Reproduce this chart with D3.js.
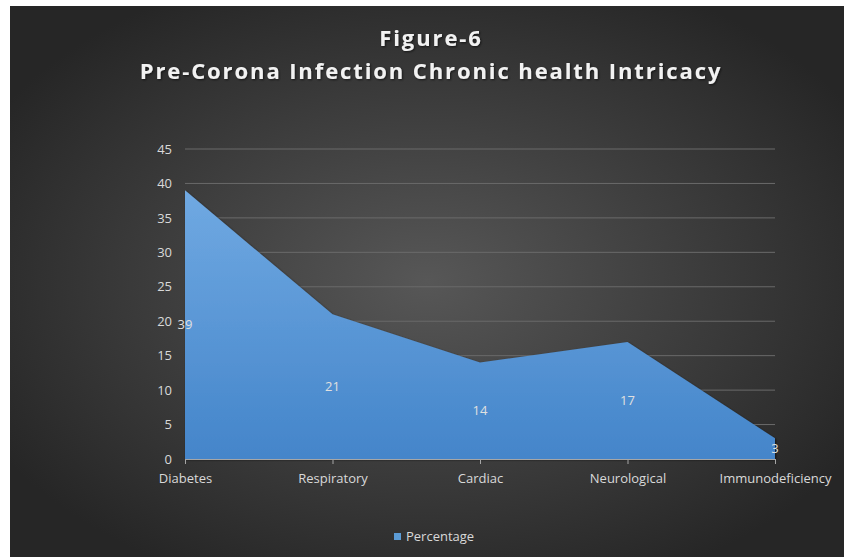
<!DOCTYPE html>
<html>
<head>
<meta charset="utf-8">
<script src="https://cdn.jsdelivr.net/npm/d3@7"></script>
<style>
  body { margin: 0; background: #fff; }
  svg { display: block; }
</style>
</head>
<body>
<svg id="chart"></svg>
<script>
// Data
const categories = ['Diabetes', 'Respiratory', 'Cardiac', 'Neurological', 'Immunodeficiency'];
const percentage = [39, 21, 14, 17, 3];
const yTicks = [0, 5, 10, 15, 20, 25, 30, 35, 40, 45];
const titleLines = ['Figure-6', 'Pre-Corona Infection Chronic health Intricacy'];
const seriesName = 'Percentage';

const width = 844;
const height = 557;

const svg = d3.select('#chart')
    .attr('width', width)
    .attr('height', height);

const defs = svg.append('defs');

// background radial gradient
const bg = defs.append('radialGradient')
    .attr('id', 'bg')
    .attr('cx', '50%').attr('cy', '50%').attr('r', '60%');
bg.append('stop').attr('offset', '0%').attr('stop-color', '#575757');
bg.append('stop').attr('offset', '100%').attr('stop-color', '#262626');

// area fill gradient
const fillGrad = defs.append('linearGradient')
    .attr('id', 'areaFill')
    .attr('x1', 0).attr('y1', 0).attr('x2', 0).attr('y2', 1);
fillGrad.append('stop').attr('offset', '0%').attr('stop-color', '#70a9e2');
fillGrad.append('stop').attr('offset', '100%').attr('stop-color', '#4485ca');

const shadow = defs.append('filter').attr('id', 'shadow')
    .attr('x', '-10%').attr('y', '-10%').attr('width', '120%').attr('height', '120%');
shadow.append('feDropShadow')
    .attr('dx', 1).attr('dy', 1).attr('stdDeviation', 1.2)
    .attr('flood-color', '#000').attr('flood-opacity', 0.6);

svg.append('rect')
    .attr('x', 10).attr('y', 6)
    .attr('width', width - 10).attr('height', height - 6)
    .attr('fill', 'url(#bg)');

// title
svg.selectAll('.title')
    .data(titleLines)
    .enter()
    .append('text')
    .attr('class', 'title')
    .attr('x', 431)
    .attr('y', (d, i) => 46 + i * 33)
    .attr('text-anchor', 'middle')
    .style('font-family', 'Open Sans, sans-serif')
    .style('font-weight', 'bold')
    .style('font-size', '22px')
    .style('letter-spacing', '1.9px')
    .style('fill', '#f2f2f2')
    .attr('filter', 'url(#shadow)')
    .text(d => d);

// scales
const x = d3.scalePoint()
    .domain(categories)
    .range([185, 775]);

const y = d3.scaleLinear()
    .domain([0, 45])
    .range([459, 149]);

// gridlines
svg.append('g')
    .selectAll('line')
    .data(yTicks.filter(d => d > 0))
    .enter()
    .append('line')
    .attr('x1', 185).attr('x2', 775)
    .attr('y1', d => y(d)).attr('y2', d => y(d))
    .style('stroke', '#6a6a6a')
    .style('stroke-width', 1);

// area
const area = d3.area()
    .x((d, i) => x(categories[i]))
    .y0(y(0))
    .y1(d => y(d));

svg.append('path')
    .datum(percentage)
    .attr('d', area)
    .attr('fill', 'url(#areaFill)')
    .attr('filter', 'url(#shadow)');

// x axis
const xAxis = svg.append('g')
    .attr('transform', `translate(0,${y(0)})`)
    .call(d3.axisBottom(x).tickSize(5).tickPadding(10));
xAxis.select('.domain').style('stroke', '#a6a6a6').attr('d', 'M185,0.5H775');
xAxis.selectAll('.tick line').style('stroke', '#a6a6a6');
xAxis.selectAll('.tick text')
    .style('font-family', 'Open Sans, sans-serif')
    .style('font-size', '13px')
    .style('fill', '#d9d9d9');

// y axis labels
const yAxis = svg.append('g')
    .attr('transform', 'translate(185,0)')
    .call(d3.axisLeft(y).tickValues(yTicks).tickSize(0).tickPadding(13));
yAxis.select('.domain').remove();
yAxis.selectAll('.tick text')
    .style('font-family', 'Open Sans, sans-serif')
    .style('font-size', '13px')
    .style('fill', '#d9d9d9');

// data labels at mid height
svg.append('g')
    .selectAll('text')
    .data(percentage)
    .enter()
    .append('text')
    .attr('x', (d, i) => x(categories[i]))
    .attr('y', d => y(d / 2))
    .attr('dy', '0.35em')
    .attr('text-anchor', 'middle')
    .style('font-family', 'Open Sans, sans-serif')
    .style('font-size', '13px')
    .style('fill', '#e0e0e0')
    .text(d => d);

// legend
const legend = svg.append('g').attr('transform', 'translate(394,533)');
legend.append('rect')
    .attr('width', 7).attr('height', 7)
    .attr('fill', '#5b9bd5');
legend.append('text')
    .attr('x', 12).attr('y', 8)
    .style('font-family', 'Open Sans, sans-serif')
    .style('font-size', '13px')
    .style('fill', '#d9d9d9')
    .text(seriesName);
</script>
</body>
</html>
